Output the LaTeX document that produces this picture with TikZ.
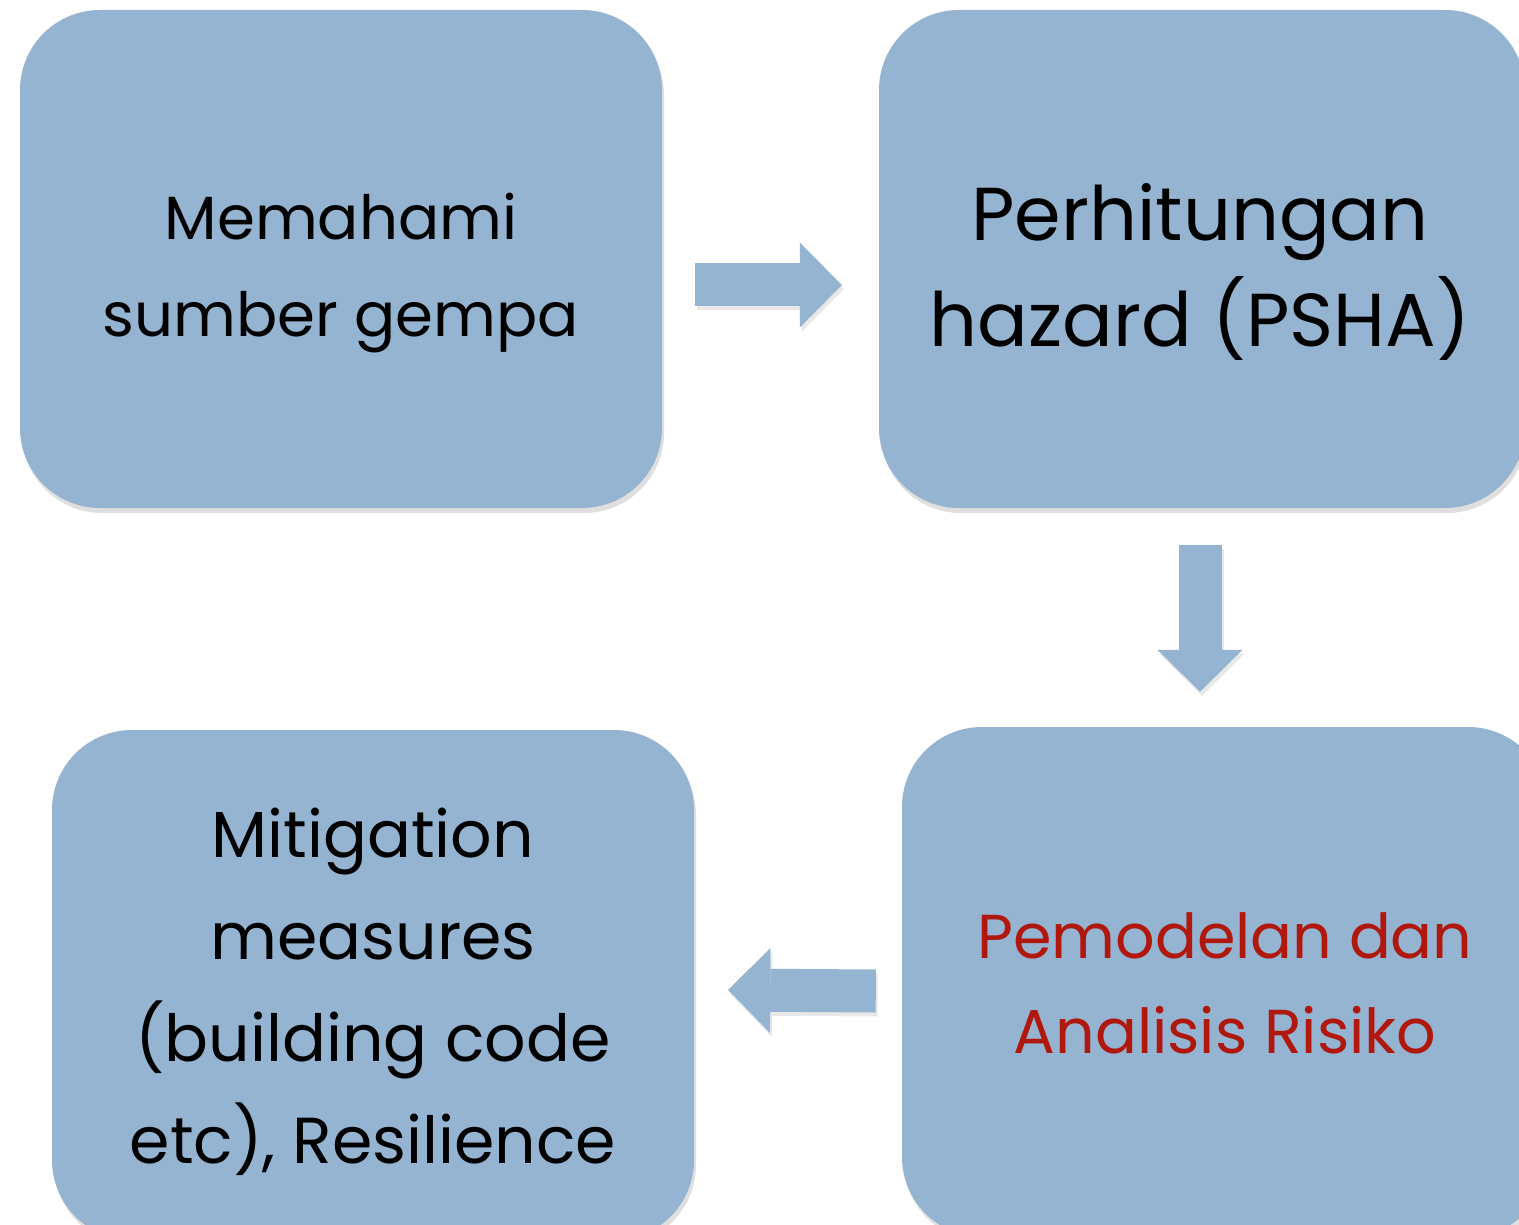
\documentclass[tikz,border=0pt]{standalone}
\usepackage{fontspec}
\setmainfont{Poppins}
\usetikzlibrary{shadows,arrows.meta,calc}
\definecolor{boxblue}{RGB}{148,180,210}
\definecolor{darkred}{RGB}{176,24,14}
\tikzset{
  card/.style={fill=boxblue, draw=none, rounded corners=80pt, inner sep=0pt,
    drop shadow={opacity=0.25, shadow xshift=2pt, shadow yshift=-5pt}},
  label/.style={align=center, anchor=base, inner sep=0pt, text=black},
  blk/.style={draw=boxblue, line width=43pt, line cap=butt,
    -{Triangle[length=42pt,width=85pt,line width=0pt,fill=boxblue]}},
  blkshadow/.style={draw=black!25, opacity=0.35, line width=43pt, line cap=butt,
    -{Triangle[length=42pt,width=85pt,line width=0pt,fill=black!25]}}
}
\begin{document}
\begin{tikzpicture}[x=1pt,y=-1pt]
\clip (0,0) rectangle (1519,1225);
\fill[white] (0,0) rectangle (1519,1225);
\node[card, minimum width=642pt, minimum height=498pt] (b1) at (341,259) {};
\node[card, minimum width=646pt, minimum height=498pt] (b2) at (1202,259) {};
\node[card, minimum width=646pt, minimum height=510pt] (b3) at (1225,982) {};
\node[card, minimum width=642pt, minimum height=510pt] (b4) at (373,985) {};
% texts (anchor=base is the baseline of the last line)
\node[label, font=\fontsize{61}{97}\selectfont] (t1) at (341,337)
  {Memahami\\sumber gempa};
\node[label, font=\fontsize{75}{106}\selectfont] (t2) at (1200,346)
  {Perhitungan\\hazard (PSHA)};
\node[label, font=\fontsize{62}{95}\selectfont, text=darkred] (t3) at (1225,1053)
  {Pemodelan dan\\Analisis Risiko};
\node[label, font=\fontsize{65}{102}\selectfont] (t4) at (373,1163)
  {Mitigation\\measures\\(building code\\etc), Resilience};
% block arrows
\draw[blkshadow] ($(b1.east)+(35,30)$) -- ($(b2.west)+(-35,30)$);
\draw[blk] ($(b1.east)+(33,26)$) -- ($(b2.west)+(-37,26)$);
\draw[blkshadow] ($(b2.south)+(0,41)$) -- ($(b3.north)+(-23,-31)$);
\draw[blk] ($(b2.south)+(-2,37)$) -- ($(b3.north)+(-25,-35)$);
\draw[blkshadow] ($(b3.west)+(-24,13)$) -- ($(b4.east)+(36,9)$);
\draw[blk] ($(b3.west)+(-26,9)$) -- ($(b4.east)+(34,5)$);
\end{tikzpicture}
\end{document}
